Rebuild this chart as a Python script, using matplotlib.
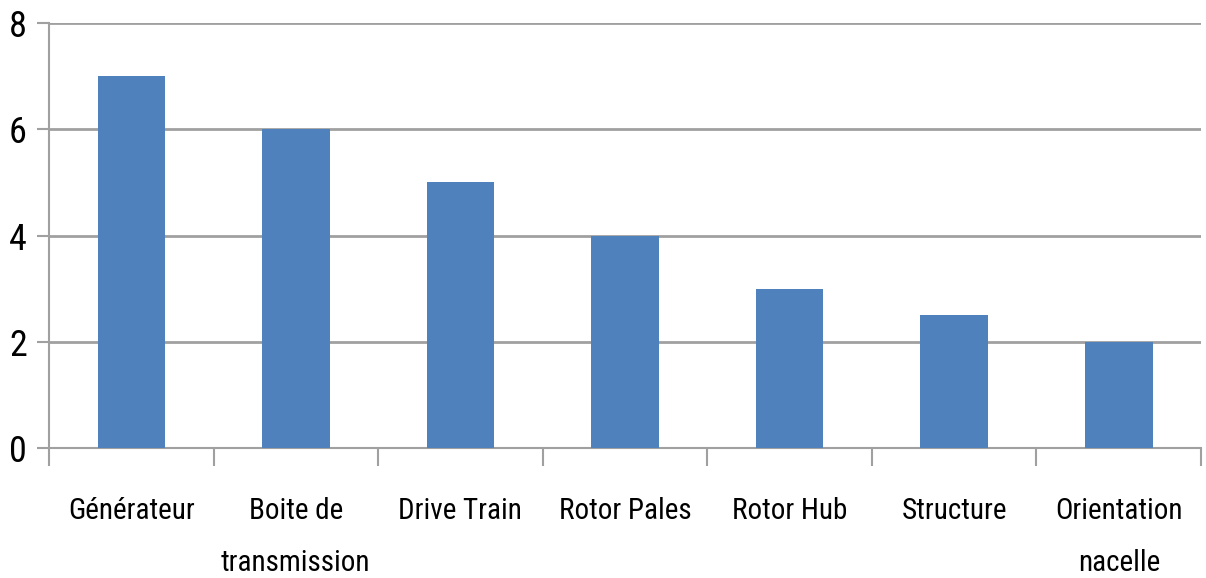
import matplotlib.pyplot as plt
import numpy as np

categories = ['Générateur', 'Boite de\ntransmission', 'Drive Train', 'Rotor Pales',
              'Rotor Hub', 'Structure', 'Orientation\nnacelle']
values = [7, 6, 5, 4, 3, 2.5, 2]
yticks = [0, 2, 4, 6, 8]

plt.rcParams['font.family'] = ['Roboto Condensed', 'Liberation Sans', 'DejaVu Sans']

fig = plt.figure(figsize=(12.06, 5.78), dpi=100)
ax = fig.add_axes([0.0406, 0.2249, 0.9553, 0.7353])

x = np.arange(len(categories))
ax.bar(x, values, width=0.41, color='#4F81BD', zorder=3)

ax.set_xlim(-0.5, len(categories) - 0.5)
ax.set_ylim(0, 8)
ax.set_yticks(yticks)
ax.yaxis.grid(True, color='#A0A0A0', linewidth=2, zorder=0)
ax.tick_params(axis='y', length=9, width=1.5, color='#A0A0A0', labelsize=26, pad=7)

# category labels centred, ticks on the boundaries
ax.set_xticks(x)
ax.set_xticklabels(categories, fontsize=21, linespacing=2.1)
ax.tick_params(axis='x', which='major', length=0, pad=35)
ax.set_xticks(np.arange(len(categories) + 1) - 0.5, minor=True)
ax.tick_params(axis='x', which='minor', length=13, width=1.5, color='#A0A0A0')

for s in ['top', 'right']:
    ax.spines[s].set_visible(False)
for s in ['left', 'bottom']:
    ax.spines[s].set_color('#A0A0A0')
    ax.spines[s].set_linewidth(1.5)

plt.savefig('out.png', dpi=100)
